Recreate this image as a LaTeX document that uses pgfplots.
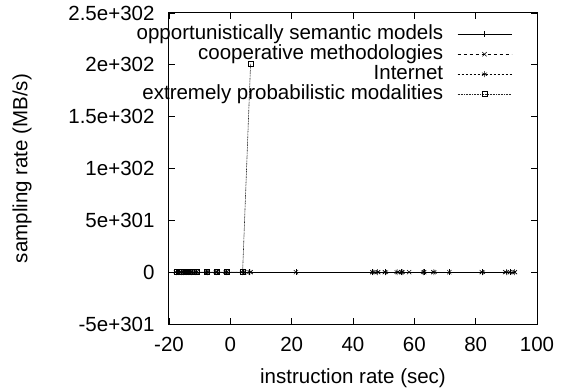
\documentclass[border=0pt]{standalone}
\usepackage{fontspec}
\setmainfont{Liberation Sans}
\usepackage{pgfplots}
\pgfplotsset{compat=1.18}
\begin{document}
\begin{tikzpicture}
\useasboundingbox (-169pt,-65pt) rectangle (400pt,324pt);
\begin{axis}[
  scale only axis,
  width=368pt, height=311pt,
  xmin=-20, xmax=100, ymin=-5e301, ymax=2.5e302,
  xtick={-20,0,20,40,60,80,100},
  ytick={-5e301,0,5e301,1e302,1.5e302,2e302,2.5e302},
  yticklabels={-5e+301,0,5e+301,1e+302,1.5e+302,2e+302,2.5e+302},
  scaled y ticks=false,
  /pgf/number format/assume math mode=true,
  font=\fontsize{20.5}{22}\selectfont,
  tick align=inside,
  major tick length=6pt,
  axis line style={line width=1pt},
  every tick/.style={black, line width=0.8pt},
  xlabel={instruction rate (sec)},
  ylabel={sampling rate (MB/s)},
  xticklabel style={yshift=-10pt},
  yticklabel style={xshift=-11pt},
  xlabel style={yshift=-10pt},
  ylabel style={yshift=30pt},
  legend cell align=right,
  legend plot pos=right,
  legend style={draw=none, fill=none, at={(axis description cs:1,1)}, anchor=north east,
    xshift=-25pt, yshift=-11pt, inner sep=0pt, row sep=0pt, column sep=14pt,
    nodes={inner xsep=0pt, inner ysep=1pt, text height=14pt, text depth=4pt},
    font=\fontsize{20.5}{20}\selectfont},
  legend image code/.code={\draw[mark repeat=2,mark phase=2,#1] plot coordinates {(0pt,0pt) (27pt,0pt) (54pt,0pt)};},
]
\addplot[black, line width=0.6pt, mark=+, mark size=3pt, mark options={solid}] coordinates {
(-17.4,0) (-16.6,0) (-15.9,0) (-15.1,0) (-14.3,0) (-13.2,0) (-12.4,0) (-11,0) (-7.7,0) (-4.4,0) (-1.2,0) (4.2,0) (6.3,0) (21.4,0) (46.3,0) (50.4,0) (55.9,0) (63.2,0) (71.4,0) (82,0) (91.2,0)};
\addlegendentry{opportunistically semantic models}
\addplot[black, line width=0.5pt, dashed, mark=x, mark size=3pt, mark options={solid}] coordinates {
(-17,0) (-16.2,0) (-15.4,0) (-14.6,0) (-13.8,0) (-12.8,0) (-11,0) (-7.7,0) (-4.4,0) (-1.2,0) (4.6,0) (6.6,0) (21.4,0) (46.3,0) (48.2,0) (50.4,0) (54.6,0) (55.9,0) (58.3,0) (63.2,0) (66.2,0) (71.4,0) (82,0) (89.6,0) (91.2,0) (92.8,0)};
\addlegendentry{cooperative methodologies}
\addplot[black, line width=0.5pt, dash pattern=on 2.5pt off 1.5pt, mark=asterisk, mark size=3pt, mark options={solid}] coordinates {
(-17.6,0) (-16.8,0) (-16,0) (-15.2,0) (-14.4,0) (-13.5,0) (-12.6,0) (-11.2,0) (-7.5,0) (-4.6,0) (-1.4,0) (4,0) (6.4,0) (46.5,0) (48,0) (50.6,0) (54.4,0) (56,0) (63,0) (66.4,0) (82.2,0) (90,0) (92.6,0)};
\addlegendentry{Internet}
\addplot[black!85, line width=0.6pt, dash pattern=on 1pt off 0.6pt, mark=square, mark size=2.5pt, mark options={solid, black}] coordinates {
(-17.5,0) (-16.9,0) (-16.3,0) (-15.7,0) (-15.1,0) (-14.5,0) (-13.9,0) (-13.2,0) (-12.5,0) (-11,0) (-7.7,0) (-4.4,0) (-1.2,0) (4.0,0) (6.6,2.01e302)};
\addlegendentry{extremely probabilistic modalities}
\end{axis}
\end{tikzpicture}
\end{document}
